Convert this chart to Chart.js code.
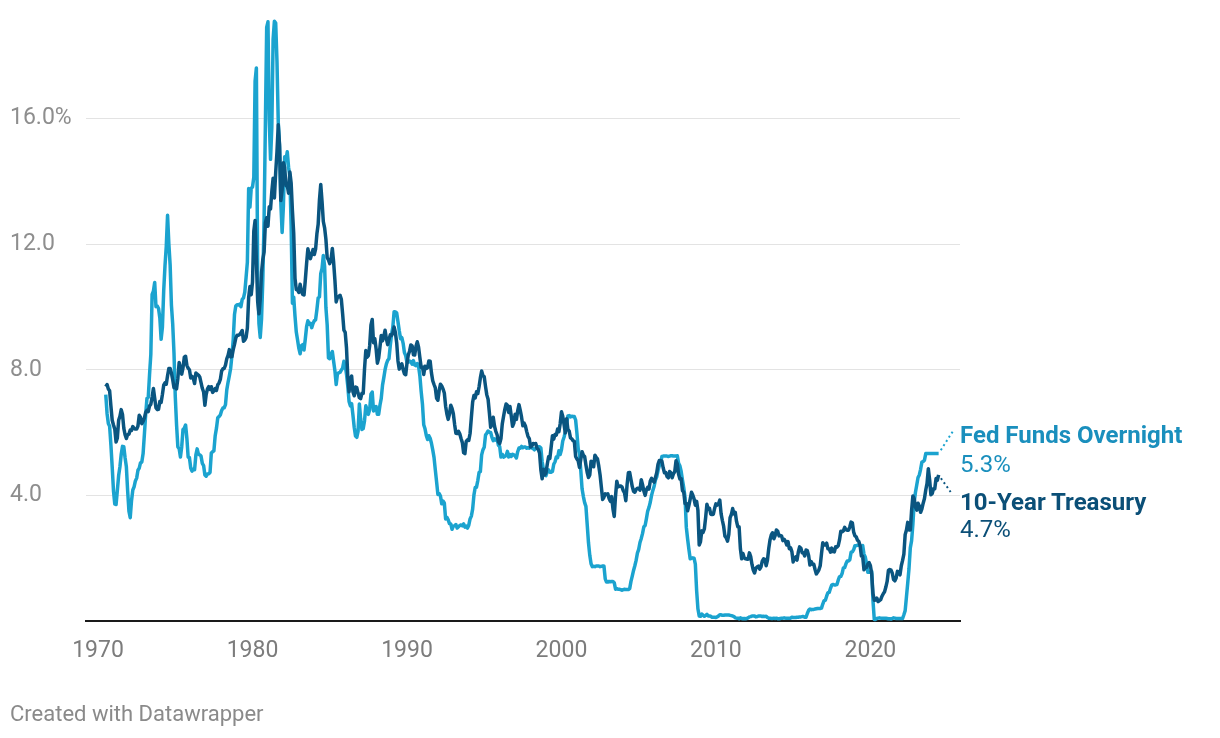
<!DOCTYPE html>
<html>
<head>
<meta charset="utf-8">
<script src="https://cdn.jsdelivr.net/npm/chart.js@4/dist/chart.umd.min.js"></script>
<style>
  html, body { margin: 0; padding: 0; background: #fff; }
  #wrap { position: relative; width: 1220px; height: 738px; font-family: Roboto, "Noto Sans", sans-serif; }
  #graph { position: absolute; left: 0; top: 0; }
  .lbl { position: absolute; left: 960px; font-size: 24px; line-height: 24px; white-space: nowrap; }
  .b { font-weight: 700; }
  #foot { position: absolute; left: 10px; top: 703px; font-size: 22px; line-height: 22px; color: #8a8a8a; }
</style>
</head>
<body>
<div id="wrap">
  <canvas id="graph" width="1220" height="738"></canvas>
  <div class="lbl b" style="top:423px;color:#1a8fbd">Fed Funds Overnight</div>
  <div class="lbl" style="top:452px;color:#1a8fbd">5.3%</div>
  <div class="lbl b" style="top:490px;color:#0b4f77">10-Year Treasury</div>
  <div class="lbl" style="top:517px;color:#0b4f77">4.7%</div>
  <div id="foot">Created with Datawrapper</div>
</div>
<script>
// monthly values, first month = July 1970
var startYear = 1970;
var startMonth = 6;

var fedFunds = [
  7.21, 6.61, 6.29, 6.20, 5.60, 4.90,
  4.14, 3.72, 3.71, 4.16, 4.63, 4.91, 5.31, 5.56, 5.55, 5.20, 4.91, 4.14,
  3.50, 3.29, 3.83, 4.17, 4.27, 4.46, 4.55, 4.80, 4.87, 5.04, 5.06, 5.33,
  5.94, 6.58, 7.09, 7.12, 7.84, 8.49, 10.40, 10.50, 10.78, 10.01, 10.03, 9.95,
  9.65, 8.97, 9.35, 10.51, 11.31, 11.93, 12.92, 12.01, 11.34, 10.06, 9.45, 8.53,
  7.13, 6.24, 5.54, 5.49, 5.22, 5.55, 6.10, 6.14, 6.24, 5.82, 5.22, 5.20,
  4.87, 4.77, 4.84, 4.82, 5.29, 5.48, 5.31, 5.29, 5.25, 5.02, 4.95, 4.65,
  4.61, 4.68, 4.69, 4.73, 5.35, 5.39, 5.42, 5.90, 6.14, 6.47, 6.51, 6.56,
  6.70, 6.78, 6.79, 6.89, 7.36, 7.60, 7.81, 8.04, 8.45, 8.96, 9.76, 10.03,
  10.07, 10.06, 10.09, 10.01, 10.24, 10.29, 10.47, 10.94, 11.43, 13.77, 13.18, 13.78,
  13.82, 14.13, 17.19, 17.61, 10.98, 9.47, 9.03, 9.61, 10.87, 12.81, 15.85, 18.90,
  19.08, 15.93, 14.70, 15.72, 18.52, 19.10, 19.04, 17.82, 15.87, 15.08, 13.31, 12.37,
  13.22, 14.78, 14.68, 14.94, 14.45, 14.15, 12.59, 10.12, 10.31, 9.71, 9.20, 8.95,
  8.68, 8.51, 8.77, 8.80, 8.63, 8.98, 9.37, 9.56, 9.45, 9.48, 9.34, 9.47,
  9.56, 9.59, 9.91, 10.29, 10.32, 11.06, 11.23, 11.64, 11.30, 9.99, 9.43, 8.38,
  8.35, 8.50, 8.58, 8.27, 7.97, 7.53, 7.88, 7.90, 7.92, 7.99, 8.05, 8.27,
  8.14, 7.86, 7.48, 6.99, 6.85, 6.92, 6.56, 6.17, 5.89, 5.85, 6.04, 6.91,
  6.43, 6.10, 6.13, 6.37, 6.85, 6.73, 6.58, 6.73, 7.22, 7.29, 6.69, 6.77,
  6.83, 6.58, 6.58, 6.87, 7.09, 7.51, 7.75, 8.01, 8.19, 8.30, 8.35, 8.76,
  9.12, 9.36, 9.85, 9.84, 9.81, 9.53, 9.24, 8.99, 9.02, 8.84, 8.55, 8.45,
  8.23, 8.24, 8.28, 8.26, 8.18, 8.29, 8.15, 8.13, 8.20, 8.11, 7.81, 7.31,
  6.91, 6.25, 6.12, 5.91, 5.78, 5.90, 5.82, 5.66, 5.45, 5.21, 4.81, 4.43,
  4.03, 4.06, 3.98, 3.73, 3.82, 3.76, 3.25, 3.30, 3.22, 3.10, 3.09, 2.92,
  3.02, 3.03, 3.07, 2.96, 3.00, 3.04, 3.06, 3.03, 3.09, 2.99, 3.02, 2.96,
  3.05, 3.25, 3.34, 3.56, 4.01, 4.25, 4.26, 4.47, 4.73, 4.76, 5.29, 5.45,
  5.53, 5.92, 5.98, 6.05, 6.01, 6.00, 5.85, 5.74, 5.80, 5.76, 5.80, 5.60,
  5.56, 5.22, 5.31, 5.22, 5.24, 5.27, 5.40, 5.22, 5.30, 5.24, 5.31, 5.29,
  5.25, 5.19, 5.39, 5.51, 5.50, 5.56, 5.52, 5.54, 5.54, 5.50, 5.52, 5.50,
  5.56, 5.51, 5.49, 5.45, 5.49, 5.56, 5.54, 5.55, 5.51, 5.07, 4.83, 4.68,
  4.63, 4.76, 4.81, 4.74, 4.74, 4.76, 4.99, 5.07, 5.22, 5.20, 5.42, 5.30,
  5.45, 5.73, 5.85, 6.02, 6.27, 6.53, 6.54, 6.50, 6.52, 6.51, 6.51, 6.40,
  5.98, 5.49, 5.31, 4.80, 4.21, 3.97, 3.77, 3.65, 3.07, 2.49, 2.09, 1.82,
  1.73, 1.74, 1.73, 1.75, 1.75, 1.75, 1.73, 1.74, 1.75, 1.75, 1.34, 1.24,
  1.24, 1.26, 1.25, 1.26, 1.26, 1.22, 1.01, 1.03, 1.01, 1.01, 1.00, 0.98,
  1.00, 1.01, 1.00, 1.00, 1.00, 1.03, 1.26, 1.43, 1.61, 1.76, 1.93, 2.16,
  2.28, 2.50, 2.63, 2.79, 3.00, 3.04, 3.26, 3.50, 3.62, 3.78, 4.00, 4.16,
  4.29, 4.49, 4.59, 4.79, 4.94, 4.99, 5.24, 5.25, 5.25, 5.25, 5.25, 5.24,
  5.25, 5.26, 5.26, 5.25, 5.25, 5.25, 5.26, 5.02, 4.94, 4.76, 4.49, 4.24,
  3.94, 2.98, 2.61, 2.28, 1.98, 2.00, 2.01, 2.00, 1.81, 0.97, 0.39, 0.16,
  0.15, 0.22, 0.18, 0.15, 0.18, 0.21, 0.16, 0.16, 0.15, 0.12, 0.12, 0.12,
  0.11, 0.13, 0.16, 0.20, 0.20, 0.18, 0.18, 0.19, 0.19, 0.19, 0.19, 0.18,
  0.17, 0.16, 0.14, 0.10, 0.09, 0.09, 0.07, 0.10, 0.08, 0.07, 0.08, 0.07,
  0.08, 0.10, 0.13, 0.14, 0.16, 0.16, 0.16, 0.13, 0.14, 0.16, 0.16, 0.16,
  0.14, 0.15, 0.14, 0.15, 0.11, 0.09, 0.09, 0.08, 0.08, 0.09, 0.08, 0.09,
  0.07, 0.07, 0.08, 0.09, 0.09, 0.10, 0.09, 0.09, 0.09, 0.09, 0.09, 0.12,
  0.11, 0.11, 0.11, 0.12, 0.12, 0.13, 0.13, 0.14, 0.14, 0.12, 0.12, 0.24,
  0.34, 0.38, 0.36, 0.37, 0.37, 0.38, 0.39, 0.40, 0.40, 0.40, 0.41, 0.54,
  0.65, 0.66, 0.79, 0.90, 0.91, 1.04, 1.15, 1.16, 1.15, 1.15, 1.16, 1.30,
  1.41, 1.42, 1.51, 1.69, 1.70, 1.82, 1.91, 1.91, 1.95, 2.19, 2.20, 2.27,
  2.40, 2.40, 2.41, 2.42, 2.39, 2.38, 2.40, 2.13, 2.04, 1.83, 1.55, 1.55,
  1.55, 1.58, 0.65, 0.05, 0.05, 0.08, 0.09, 0.10, 0.09, 0.09, 0.09, 0.09,
  0.09, 0.08, 0.07, 0.07, 0.06, 0.08, 0.10, 0.09, 0.08, 0.08, 0.08, 0.08,
  0.08, 0.08, 0.20, 0.33, 0.77, 1.21, 1.68, 2.33, 2.56, 3.08, 3.78, 4.10,
  4.33, 4.57, 4.65, 4.83, 5.06, 5.08, 5.12, 5.33, 5.33, 5.33, 5.33, 5.33,
  5.33, 5.33, 5.33, 5.33, 5.33, 5.33
];

var treasury10y = [
  7.46, 7.53, 7.39, 7.33, 6.84, 6.39,
  6.24, 6.11, 5.70, 5.83, 6.39, 6.52, 6.73, 6.58, 6.14, 5.93, 5.81, 5.93,
  5.95, 6.08, 6.07, 6.19, 6.13, 6.11, 6.11, 6.21, 6.55, 6.48, 6.28, 6.36,
  6.46, 6.64, 6.71, 6.67, 6.85, 6.90, 7.13, 7.40, 7.09, 6.79, 6.73, 6.74,
  6.99, 6.96, 7.21, 7.51, 7.58, 7.54, 7.81, 8.04, 8.04, 7.90, 7.68, 7.43,
  7.50, 7.39, 7.73, 8.23, 8.06, 7.86, 8.06, 8.40, 8.43, 8.14, 8.05, 8.00,
  7.74, 7.79, 7.73, 7.56, 7.90, 7.86, 7.83, 7.77, 7.59, 7.41, 7.29, 6.87,
  7.21, 7.39, 7.46, 7.37, 7.46, 7.28, 7.33, 7.40, 7.34, 7.52, 7.58, 7.69,
  7.96, 8.03, 8.04, 8.15, 8.35, 8.46, 8.64, 8.41, 8.42, 8.64, 8.81, 9.01,
  9.10, 9.10, 9.12, 9.18, 9.25, 8.91, 8.95, 9.03, 9.33, 10.30, 10.65, 10.39,
  10.80, 12.41, 12.75, 11.47, 10.18, 9.78, 10.25, 11.10, 11.51, 11.75, 12.68, 12.84,
  12.57, 13.19, 13.12, 13.68, 14.10, 13.47, 14.28, 14.94, 15.80, 15.15, 13.39, 13.72,
  14.59, 14.43, 13.86, 13.87, 13.62, 14.30, 13.95, 13.06, 12.34, 10.91, 10.55, 10.54,
  10.46, 10.72, 10.51, 10.40, 10.38, 10.85, 11.38, 11.85, 11.65, 11.54, 11.69, 11.83,
  11.67, 11.84, 12.32, 12.63, 13.41, 13.90, 13.36, 12.72, 12.52, 12.16, 11.57, 11.50,
  11.38, 11.51, 11.86, 11.43, 10.85, 10.16, 10.31, 10.33, 10.37, 10.24, 9.78, 9.26,
  9.19, 8.70, 7.78, 7.30, 7.71, 7.80, 7.30, 7.17, 7.45, 7.43, 7.25, 7.11,
  7.08, 7.25, 7.25, 8.02, 8.61, 8.40, 8.45, 8.76, 9.42, 9.60, 8.86, 8.99,
  8.67, 8.21, 8.37, 8.72, 9.09, 8.92, 9.06, 9.26, 8.98, 8.80, 8.96, 9.11,
  9.09, 9.17, 9.36, 9.18, 8.86, 8.28, 8.02, 8.11, 8.19, 8.01, 7.87, 7.84,
  8.21, 8.47, 8.59, 8.79, 8.76, 8.48, 8.47, 8.75, 8.89, 8.72, 8.39, 8.08,
  8.09, 7.85, 8.11, 8.04, 8.07, 8.28, 8.27, 7.90, 7.65, 7.53, 7.42, 7.09,
  7.03, 7.34, 7.54, 7.48, 7.39, 7.26, 6.84, 6.59, 6.42, 6.59, 6.87, 6.77,
  6.60, 6.26, 5.98, 5.97, 6.04, 5.96, 5.81, 5.68, 5.36, 5.33, 5.72, 5.77,
  5.75, 5.97, 6.48, 6.97, 7.18, 7.10, 7.30, 7.24, 7.46, 7.74, 7.96, 7.81,
  7.78, 7.47, 7.20, 7.06, 6.63, 6.17, 6.28, 6.49, 6.20, 6.04, 5.93, 5.71,
  5.65, 5.81, 6.27, 6.51, 6.74, 6.91, 6.87, 6.64, 6.83, 6.53, 6.20, 6.30,
  6.58, 6.42, 6.69, 6.89, 6.71, 6.49, 6.22, 6.30, 6.21, 6.03, 5.88, 5.81,
  5.54, 5.57, 5.65, 5.64, 5.65, 5.50, 5.46, 5.34, 4.81, 4.53, 4.83, 4.65,
  4.72, 5.00, 5.23, 5.18, 5.54, 5.90, 5.79, 5.94, 5.92, 6.11, 6.03, 6.28,
  6.66, 6.52, 6.26, 5.99, 6.44, 6.10, 6.05, 5.83, 5.80, 5.74, 5.72, 5.24,
  5.16, 5.10, 4.89, 5.14, 5.39, 5.28, 5.24, 4.97, 4.73, 4.57, 4.65, 5.09,
  5.04, 4.91, 5.28, 5.21, 5.16, 4.93, 4.65, 4.26, 3.87, 3.94, 4.05, 4.03,
  4.05, 3.90, 3.81, 3.96, 3.57, 3.33, 3.98, 4.45, 4.27, 4.29, 4.30, 4.27,
  4.15, 4.08, 3.83, 4.35, 4.72, 4.73, 4.50, 4.28, 4.13, 4.10, 4.19, 4.23,
  4.22, 4.17, 4.50, 4.34, 4.14, 4.00, 4.18, 4.26, 4.20, 4.46, 4.54, 4.47,
  4.42, 4.57, 4.72, 4.99, 5.11, 5.11, 5.09, 4.88, 4.72, 4.73, 4.60, 4.56,
  4.76, 4.72, 4.56, 4.69, 4.75, 5.10, 5.00, 4.67, 4.52, 4.53, 4.15, 4.10,
  3.74, 3.74, 3.51, 3.68, 3.88, 4.10, 4.01, 3.89, 3.69, 3.81, 3.53, 2.42,
  2.52, 2.87, 2.82, 2.93, 3.29, 3.72, 3.56, 3.59, 3.40, 3.39, 3.40, 3.59,
  3.73, 3.69, 3.73, 3.85, 3.42, 3.20, 3.01, 2.70, 2.65, 2.54, 2.76, 3.29,
  3.39, 3.58, 3.41, 3.46, 3.17, 3.00, 3.00, 2.30, 1.98, 2.15, 2.01, 1.98,
  1.97, 1.97, 2.17, 2.05, 1.80, 1.62, 1.53, 1.68, 1.72, 1.75, 1.65, 1.72,
  1.91, 1.98, 1.96, 1.76, 1.93, 2.30, 2.58, 2.74, 2.81, 2.62, 2.72, 2.90,
  2.86, 2.71, 2.72, 2.71, 2.56, 2.60, 2.54, 2.42, 2.53, 2.30, 2.33, 2.21,
  1.88, 1.98, 2.04, 1.94, 2.20, 2.36, 2.32, 2.17, 2.17, 2.07, 2.26, 2.24,
  2.09, 1.78, 1.89, 1.81, 1.81, 1.64, 1.50, 1.56, 1.63, 1.76, 2.14, 2.49,
  2.43, 2.42, 2.48, 2.30, 2.30, 2.19, 2.32, 2.21, 2.20, 2.36, 2.35, 2.40,
  2.58, 2.86, 2.84, 2.87, 2.98, 2.91, 2.89, 2.89, 3.00, 3.15, 3.12, 2.83,
  2.71, 2.68, 2.57, 2.53, 2.40, 2.07, 2.06, 1.63, 1.70, 1.71, 1.81, 1.86,
  1.76, 1.50, 0.87, 0.66, 0.67, 0.73, 0.62, 0.65, 0.68, 0.79, 0.87, 0.93,
  1.08, 1.26, 1.61, 1.64, 1.62, 1.52, 1.32, 1.28, 1.37, 1.58, 1.56, 1.47,
  1.76, 1.93, 2.13, 2.75, 2.90, 3.14, 2.90, 2.90, 3.52, 3.98, 3.89, 3.62,
  3.53, 3.75, 3.66, 3.46, 3.57, 3.75, 3.90, 4.17, 4.38, 4.85, 4.50, 4.02,
  4.06, 4.21, 4.21, 4.54, 4.48, 4.65
];

var xTicks = [1970, 1980, 1990, 2000, 2010, 2020];
var yTicks = [4, 8, 12, 16];
var yTickLabels = ["4.0", "8.0", "12.0", "16.0%"];

function toPoints(values) {
  var pts = [];
  for (var i = 0; i < values.length; i++) {
    pts.push({ x: startYear + (startMonth + i) / 12, y: values[i] });
  }
  return pts;
}

// dotted leader from each line end to its label
var leaderEnds = { "Fed Funds Overnight": [14, -22], "10-Year Treasury": [12, 17] };

var leaders = {
  id: "leaders",
  afterDatasetsDraw: function (chart) {
    var ctx = chart.ctx;
    chart.data.datasets.forEach(function (ds, i) {
      var meta = chart.getDatasetMeta(i);
      var last = meta.data[meta.data.length - 1];
      var end = leaderEnds[ds.label];
      var dx = end[0], dy = end[1];
      var k = 4 / Math.sqrt(dx * dx + dy * dy);
      ctx.save();
      ctx.strokeStyle = ds.borderColor;
      ctx.lineWidth = 2;
      ctx.setLineDash([2, 3]);
      ctx.beginPath();
      ctx.moveTo(last.x + dx * k, last.y + dy * k);
      ctx.lineTo(last.x + dx, last.y + dy);
      ctx.stroke();
      ctx.restore();
    });
  }
};

var ctx = document.getElementById("graph").getContext("2d");

var chart = new Chart(ctx, {
  type: "line",
  data: {
    datasets: [
      {
        label: "10-Year Treasury",
        data: toPoints(treasury10y),
        borderColor: "#0a5580",
        borderWidth: 3.5,
        pointRadius: 0,
        tension: 0,
        borderJoinStyle: "round",
        clip: false,
      },
      {
        label: "Fed Funds Overnight",
        data: toPoints(fedFunds),
        borderColor: "#1ba3cf",
        borderWidth: 3.5,
        pointRadius: 0,
        tension: 0,
        borderJoinStyle: "round",
        clip: false,
      },
    ],
  },
  options: {
    responsive: false,
    animation: false,
    layout: {
      padding: { left: 10, right: 260, top: 18, bottom: 77 },
    },
    plugins: {
      legend: { display: false },
      tooltip: { enabled: false },
    },
    scales: {
      x: {
        type: "linear",
        min: 1969.22,
        max: 2025.8,
        afterBuildTicks: function (s) {
          s.ticks = xTicks.map(function (v) { return { value: v }; });
        },
        afterFit: function (s) { s.height = 40; },
        grid: { display: false, drawTicks: false },
        border: { display: true, color: "#1a1a1a", width: 2 },
        ticks: {
          padding: 16,
          color: "#7c7c7c",
          font: { family: "Roboto", size: 23 },
          maxRotation: 0,
          callback: function (v) { return String(v); },
        },
      },
      y: {
        type: "linear",
        min: 0,
        max: 19.2,
        afterBuildTicks: function (s) {
          s.ticks = yTicks.map(function (v) { return { value: v }; });
        },
        afterFit: function (s) { s.width = 76; },
        grid: { color: "#e3e3e3", lineWidth: 1, drawTicks: false },
        border: { display: false },
        ticks: {
          crossAlign: "far",
          color: "#8e8e8e",
          font: { family: "Roboto", size: 23 },
          callback: function (v) { return yTickLabels[yTicks.indexOf(v)]; },
        },
      },
    },
  },
  plugins: [leaders],
});
</script>
</body>
</html>
